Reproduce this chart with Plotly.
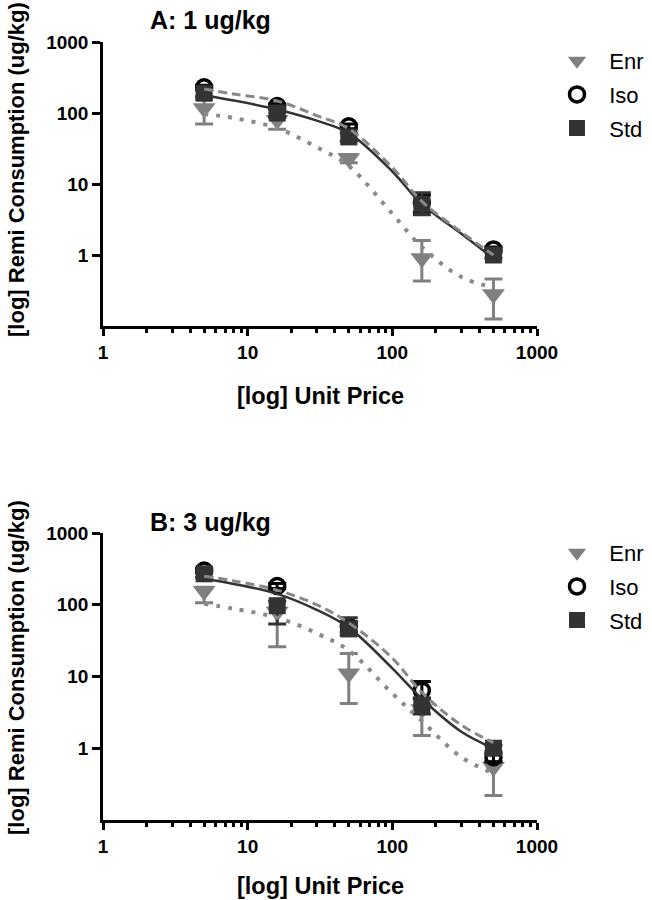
import plotly.graph_objects as go

# ---------------- data ----------------
unit_price = [5, 16, 50, 160, 500]

# Panel A: 1 ug/kg
a_enr = [117, 80, 23, 0.9, 0.28]
a_enr_plus = [40, 20, 3, 0.7, 0.18]
a_enr_minus = [47, 21, 3, 0.47, 0.155]
a_iso = [230, 125, 65, 5.5, 1.2]
a_iso_plus = [15, 10, 5, 1.5, 0.1]
a_iso_minus = [15, 10, 5, 1.5, 0.1]
a_std = [190, 100, 46, 5.2, 1.0]
a_std_plus = [20, 12, 6, 2.3, 0.1]
a_std_minus = [20, 12, 6, 1.5, 0.1]

# Panel B: 3 ug/kg
b_enr = [155, 80, 11, 3.5, 0.55]
b_enr_plus = [20, 10, 10, 0.5, 0.1]
b_enr_minus = [48, 54, 6.8, 2.0, 0.33]
b_iso = [300, 183, 50, 6.4, 0.75]
b_iso_plus = [20, 15, 8, 2.1, 0.1]
b_iso_minus = [20, 15, 8, 1.5, 0.1]
b_std = [270, 97, 46, 4.0, 1.0]
b_std_plus = [30, 15, 20, 1.0, 0.1]
b_std_minus = [30, 43, 8, 1.0, 0.1]

# fitted demand curves
fit_x = [5, 8, 16, 30, 50, 100, 160, 300, 500]
a_std_fit = [178, 150, 112, 78, 52, 15, 5.2, 2.0, 0.9]
a_iso_fit = [218, 185, 148, 92, 60, 17, 5.7, 2.1, 1.0]
a_enr_fit = [97, 85, 61, 33, 18, 3.8, 1.3, 0.49, 0.35]
b_std_fit = [230, 195, 142, 85, 48, 13, 4.9, 1.7, 1.0]
b_iso_fit = [250, 215, 160, 100, 56, 18, 6.0, 2.1, 1.2]
b_enr_fit = [103, 88, 66, 40, 23, 5.8, 2.4, 0.75, 0.45]

group_names = ["Enr", "Iso", "Std"]
x_ticks = [1, 10, 100, 1000]
x_minor = [2, 3, 4, 5, 6, 7, 8, 9, 20, 30, 40, 50, 60, 70, 80, 90,
           200, 300, 400, 500, 600, 700, 800, 900]
y_ticks = [1, 10, 100, 1000]

# ---------------- style ----------------
FONT = "Arial, Liberation Sans, sans-serif"
W, H = 652, 900
ENR_C = "#808080"
ISO_C = "#000000"
STD_C = "#333333"
PAD = "\u00a0\u00a0"

fig = go.Figure()

panels = [
    dict(xa="x", ya="y", leg="legend",
         enr=(a_enr, a_enr_plus, a_enr_minus),
         iso=(a_iso, a_iso_plus, a_iso_minus),
         std=(a_std, a_std_plus, a_std_minus),
         fits=(a_std_fit, a_iso_fit, a_enr_fit)),
    dict(xa="x2", ya="y2", leg="legend2",
         enr=(b_enr, b_enr_plus, b_enr_minus),
         iso=(b_iso, b_iso_plus, b_iso_minus),
         std=(b_std, b_std_plus, b_std_minus),
         fits=(b_std_fit, b_iso_fit, b_enr_fit)),
]

for p in panels:
    vals, ep, em = p["enr"]
    fig.add_trace(go.Scatter(
        x=unit_price, y=vals, mode="markers", name=PAD + group_names[0],
        xaxis=p["xa"], yaxis=p["ya"], legend=p["leg"], legendgroup="enr" + p["leg"],
        marker=dict(symbol="triangle-down", size=20, color=ENR_C),
        error_y=dict(type="data", symmetric=False, array=ep, arrayminus=em,
                     color=ENR_C, thickness=3, width=9)))
    vals, ep, em = p["iso"]
    fig.add_trace(go.Scatter(
        x=unit_price, y=vals, mode="markers", name=PAD + group_names[1],
        xaxis=p["xa"], yaxis=p["ya"], legend=p["leg"], legendgroup="iso" + p["leg"],
        marker=dict(symbol="circle-open", size=15, color=ISO_C,
                    line=dict(width=3.5, color=ISO_C)),
        error_y=dict(type="data", symmetric=False, array=ep, arrayminus=em,
                     color=ISO_C, thickness=3, width=9)))
    vals, ep, em = p["std"]
    fig.add_trace(go.Scatter(
        x=unit_price, y=vals, mode="markers", name=PAD + group_names[2],
        xaxis=p["xa"], yaxis=p["ya"], legend=p["leg"], legendgroup="std" + p["leg"],
        marker=dict(symbol="square", size=17, color=STD_C),
        error_y=dict(type="data", symmetric=False, array=ep, arrayminus=em,
                     color=STD_C, thickness=3, width=9)))
    s_fit, i_fit, e_fit = p["fits"]
    fig.add_trace(go.Scatter(
        x=fit_x, y=s_fit, mode="lines", showlegend=False, hoverinfo="skip",
        xaxis=p["xa"], yaxis=p["ya"], line=dict(color=STD_C, width=2.5, shape="spline")))
    fig.add_trace(go.Scatter(
        x=fit_x, y=i_fit, mode="lines", showlegend=False, hoverinfo="skip",
        xaxis=p["xa"], yaxis=p["ya"],
        line=dict(color="#888888", width=3, dash="9px,5px", shape="spline")))
    fig.add_trace(go.Scatter(
        x=fit_x, y=e_fit, mode="lines", showlegend=False, hoverinfo="skip",
        xaxis=p["xa"], yaxis=p["ya"],
        line=dict(color="#8a8a8a", width=4, dash="4px,8px", shape="spline")))

x_dom = [103 / W, 537 / W]
a_dom = [1 - 326 / H, 1 - 42 / H]
b_dom = [1 - 820 / H, 1 - 533 / H]

tickfont = dict(family=FONT, size=19, color="black", weight="bold")

def xaxis_cfg(anchor):
    return dict(type="log", range=[0, 3], domain=x_dom, anchor=anchor,
                showgrid=False, zeroline=False, showline=True, linecolor="black",
                linewidth=2.5, ticks="outside", ticklen=7, tickwidth=2.5,
                tickcolor="black", tickmode="array", tickvals=x_ticks,
                ticktext=[str(v) for v in x_ticks], tickfont=tickfont,
                automargin=False,
                minor=dict(tickmode="array", tickvals=x_minor, ticks="outside",
                           ticklen=4, tickwidth=2.5, tickcolor="black", showgrid=False))

def yaxis_cfg(anchor, dom):
    return dict(type="log", range=[-1, 3], domain=dom, anchor=anchor,
                showgrid=False, zeroline=False, showline=True, linecolor="black",
                linewidth=2.5, ticks="outside", ticklen=8, tickwidth=2.5,
                tickcolor="black", tickmode="array", tickvals=y_ticks,
                ticktext=[str(v) for v in y_ticks], tickfont=tickfont,
                automargin=False)

legend_common = dict(font=dict(family=FONT, size=22, color="black"),
                     bgcolor="rgba(0,0,0,0)", borderwidth=0,
                     xref="container", yref="container",
                     xanchor="left", yanchor="top", tracegroupgap=2,
                     traceorder="grouped", itemsizing="trace")

ann = []
title_font = dict(family=FONT, size=25, color="black", weight="bold")
ytitle_font = dict(family=FONT, size=22, color="black", weight="bold")
xtitle_font = dict(family=FONT, size=23.5, color="black", weight="bold")
for txt, yc in [("A: 1 ug/kg", 20), ("B: 3 ug/kg", 522)]:
    ann.append(dict(text=txt, x=148 / W, y=1 - yc / H, xref="paper", yref="paper",
                    xanchor="left", yanchor="middle", showarrow=False, font=title_font))
for yc in [170, 668]:
    ann.append(dict(text="[log] Remi Consumption (ug/kg)", x=16 / W, y=1 - yc / H,
                    xref="paper", yref="paper", xanchor="center", yanchor="middle",
                    textangle=-90, showarrow=False, font=ytitle_font))
for yc in [396, 886]:
    ann.append(dict(text="[log] Unit Price", x=320 / W, y=1 - yc / H,
                    xref="paper", yref="paper", xanchor="center", yanchor="middle",
                    showarrow=False, font=xtitle_font))

fig.update_layout(
    width=W, height=H,
    margin=dict(l=0, r=0, t=0, b=0, autoexpand=False),
    paper_bgcolor="white", plot_bgcolor="white",
    xaxis=xaxis_cfg("y"), yaxis=yaxis_cfg("x", a_dom),
    xaxis2=xaxis_cfg("y2"), yaxis2=yaxis_cfg("x2", b_dom),
    legend=dict(x=557 / W, y=1 - 40 / H, **legend_common),
    legend2=dict(x=557 / W, y=1 - 532 / H, **legend_common),
    annotations=ann,
    font=dict(family=FONT),
)

fig.write_html(
    "out.html",
    config={"displayModeBar": False},
    post_script="document.body.style.margin='0px';document.body.style.overflow='hidden';",
)
